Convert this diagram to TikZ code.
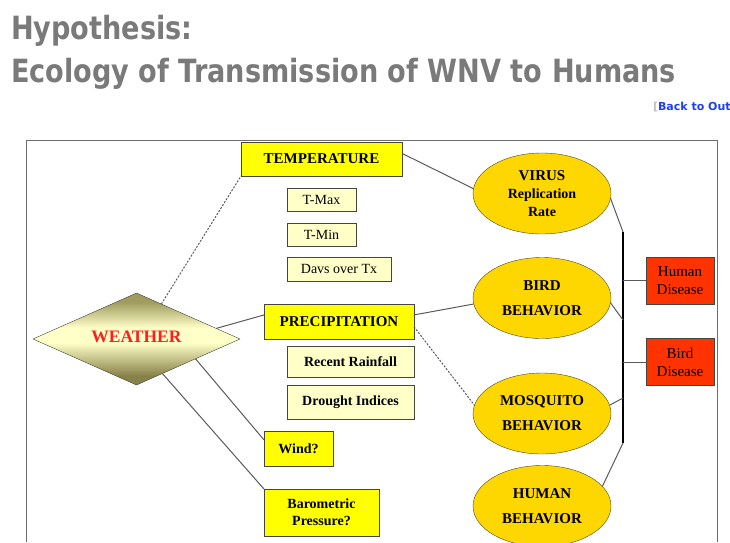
\documentclass[tikz,border=0pt]{standalone}
\usepackage{fontspec}
\setmainfont{Liberation Serif}
\newfontfamily\headfont{DejaVu Sans}
\usetikzlibrary{shapes.geometric,calc}

\definecolor{titlegray}{RGB}{122,122,122}
\definecolor{backblue}{RGB}{30,60,255}
\definecolor{framegray}{RGB}{110,110,110}
\definecolor{boxedge}{RGB}{70,70,60}
\definecolor{boxyellow}{RGB}{255,255,0}
\definecolor{paleyellow}{RGB}{255,255,200}
\definecolor{ovalgold}{RGB}{255,215,0}
\definecolor{ovaledge}{RGB}{80,70,40}
\definecolor{disred}{RGB}{255,51,0}
\definecolor{linkgray}{RGB}{90,90,90}
\definecolor{olivetop}{RGB}{160,156,95}
\definecolor{olivebot}{RGB}{135,130,72}
\definecolor{weatherred}{RGB}{255,30,30}
\pgfdeclareverticalshading{weathershade}{100bp}{color(0bp)=(olivebot); color(30bp)=(olivebot); color(48bp)=(paleyellow); color(56bp)=(paleyellow); color(70bp)=(olivetop); color(100bp)=(olivetop)}

\begin{document}
\begin{tikzpicture}[x=1pt,y=-1pt,
	every node/.style={inner sep=0pt, outer sep=0pt, align=center},
	head/.style={anchor=base west, text=titlegray, font=\headfont\bfseries\fontsize{32}{32}\selectfont},
	hbox/.style={draw=boxedge, fill=boxyellow, font=\fontsize{15}{17}\selectfont\bfseries},
	sbox/.style={draw=boxedge, fill=paleyellow, font=\fontsize{14}{16}\selectfont},
	oval/.style={ellipse, draw=ovaledge, fill=ovalgold, minimum width=138pt, minimum height=81pt, font=\fontsize{15}{18}\selectfont\bfseries},
	dbox/.style={draw=boxedge, fill=disred, minimum width=68pt, minimum height=47pt, font=\fontsize{15}{18}\selectfont},
	link/.style={draw=linkgray, line width=1pt},
	dotlink/.style={link, dash pattern=on 2pt off 1.5pt},
	]
	\useasboundingbox (0,0) rectangle (730,542);
	% heading
	\node[head] (head1) at (11,39) {\scalebox{0.848}[1]{Hypothesis:}};
	\node[head] (head2) at (11,82) {\scalebox{0.848}[1]{Ecology of Transmission of WNV to Humans}};
	\node[anchor=base west, font=\headfont\bfseries\fontsize{11}{11}\selectfont] (back) at (653,110) {\textcolor{gray!50}{[}\textcolor{backblue}{Back to Out}};
	% frame
	\draw[framegray, line width=1pt] (26,542) -- (26,140) -- (717,140) -- (717,542);
	% weather and its factors
	\node[diamond, shape aspect=2.25, minimum width=207pt, minimum height=92pt, draw=boxedge,
		shading=weathershade, text=weatherred, font=\fontsize{17.5}{20}\selectfont\bfseries] (weather) at (136.5,339) {\raisebox{5pt}{WEATHER}};
	\node[hbox, minimum width=161pt, minimum height=34pt] (temp) at (321.5,159) {TEMPERATURE};
	\node[sbox, minimum width=69pt, minimum height=23pt] (tmax) at (321.5,199.5) {T-Max};
	\node[sbox, minimum width=69pt, minimum height=23pt] (tmin) at (321.5,234.5) {T-Min};
	\node[sbox, minimum width=104pt, minimum height=24pt] (days) at (339,269) {Davs over Tx};
	\node[hbox, minimum width=150pt, minimum height=35pt] (precip) at (339,321.5) {PRECIPITATION};
	\node[sbox, minimum width=127pt, minimum height=31pt, font=\fontsize{14}{16}\selectfont\bfseries] (rain) at (350.5,361.5) {Recent Rainfall};
	\node[sbox, minimum width=127pt, minimum height=34pt, font=\fontsize{14}{16}\selectfont\bfseries] (drought) at (350.5,402) {Drought Indices};
	\node[hbox, minimum width=69pt, minimum height=35pt, font=\fontsize{14}{16}\selectfont\bfseries] (wind) at (298.5,448.5) {Wind?};
	\node[hbox, minimum width=115pt, minimum height=47pt, font=\fontsize{14}{17}\selectfont\bfseries] (baro) at (321.5,512.5) {Barometric\\Pressure?};
	% behaviour ovals
	\node[oval] (virus) at (542,193.5) {VIRUS\\{\fontsize{14}{18}\selectfont Replication}\\{\fontsize{14}{18}\selectfont Rate}};
	\node[oval] (bird) at (542,298) {BIRD\\[7pt]BEHAVIOR};
	\node[oval] (mosq) at (542,413.5) {MOSQUITO\\[7pt]BEHAVIOR};
	\node[oval] (human) at (542,506) {HUMAN\\[7pt]BEHAVIOR};
	% disease outcomes
	\node[dbox] (hdis) at (680,280.5) {Human\\Disease};
	\node[dbox] (bdis) at (680,362) {Bird\\Disease};
	\coordinate (bartop) at (623,232);
	\coordinate (barbird) at (623,320);
	\coordinate (barmosq) at (623,398);
	\coordinate (barbot) at (623,443);
	% connectors
	\draw[dotlink] ($(weather.north)!0.24!(weather.east)$) -- (temp.south west);
	\draw[link] ($(weather.north)!0.77!(weather.east)$) -- (precip.175);
	\draw[link] ($(weather.south)!0.57!(weather.east)$) -- (wind.166);
	\draw[link] ($(weather.south)!0.25!(weather.east)$) -- (baro.north west);
	\draw[link] (temp.4) -- (virus.176);
	\draw[link] (precip.5) -- (bird.185);
	\draw[dotlink] (precip.-4) -- (mosq.173);
	\draw[line width=2pt] (bartop) -- (barbot);
	\draw[link] (virus.-4) -- (bartop);
	\draw[link] (bird.-4) -- (barbird);
	\draw[link] (mosq.7) -- (barmosq);
	\draw[link] (human.18) -- (barbot);
	\draw[link] (hdis.west) -- (hdis.west -| bartop);
	\draw[link] (bdis.west) -- (bdis.west -| bartop);
\end{tikzpicture}
\end{document}
